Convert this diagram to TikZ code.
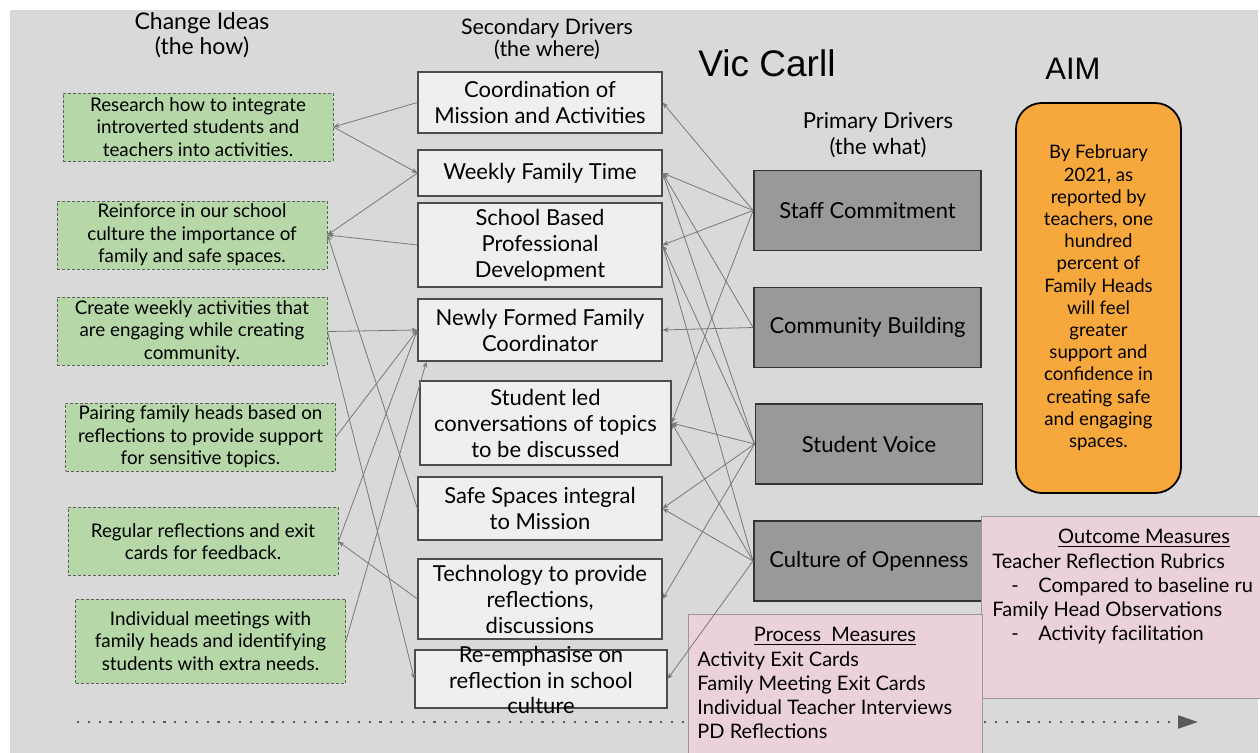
\documentclass[tikz,border=0pt]{standalone}
\usepackage{fontspec}
\setmainfont{Lato}
\newfontfamily\headfont{Liberation Sans}
\usetikzlibrary{arrows.meta}

\definecolor{bggrey}{RGB}{217,217,217}
\definecolor{ideagreen}{RGB}{182,215,168}
\definecolor{secfill}{RGB}{239,239,239}
\definecolor{primfill}{RGB}{153,153,153}
\definecolor{aimorange}{RGB}{247,168,61}
\definecolor{measurepink}{RGB}{234,209,220}
\definecolor{linkgrey}{RGB}{120,120,120}

\begin{document}
\begin{tikzpicture}[x=0.5pt, y=-0.5pt]

% ---- Styles ----
\tikzset{
  ideabox/.style={
    draw=gray!75!black, dash pattern=on 1.5pt off 1pt, line width=0.4pt,
    fill=ideagreen, minimum width=135pt, minimum height=34pt,
    align=center, inner sep=1pt, font=\fontsize{9.4}{11.3}\selectfont
  },
  secbox/.style={
    draw=black!70, line width=0.6pt, fill=secfill,
    minimum width=122pt, align=center, inner sep=1pt,
    font=\fontsize{11}{13}\selectfont
  },
  primbox/.style={
    draw=black!80, line width=0.9pt, fill=primfill,
    minimum width=113.5pt, minimum height=40pt,
    font=\fontsize{11}{13}\selectfont
  },
  measurebox/.style={
    draw=gray!80, line width=0.5pt, fill=measurepink, anchor=north west
  },
  heading/.style={align=center},
  link/.style={
    draw=linkgrey, line width=0.4pt, -{Stealth[length=3pt,width=2.4pt]}
  }
}

% background sheet
\useasboundingbox (0,0) rectangle (1260,753);
\fill[bggrey] (10,10) rectangle (1258,753);

% =========================================================
% HEADINGS
% =========================================================
\node[heading, font=\fontsize{11.5}{12.5}\selectfont] (hideas) at (202,35) {Change Ideas\\(the how)};
\node[heading, font=\fontsize{10.7}{11.2}\selectfont] (hsec) at (547,39) {Secondary Drivers\\(the where)};
\node[heading, font=\fontsize{11}{13}\selectfont] (hprim) at (878,135) {Primary Drivers\\(the what)};
\node[font=\headfont\fontsize{18.5}{20}\selectfont] (title) at (767,63) {Vic Carll};
\node[font=\headfont\fontsize{15.5}{17}\selectfont] (aimhead) at (1073,69) {AIM};

% =========================================================
% TIMELINE ARROW (under the measure boxes)
% =========================================================
\coordinate (tstart) at (77,722);
\coordinate (tend) at (1198,722);
\draw[gray!70!black, line width=1.1pt, dash pattern=on 1.1pt off 4.3pt,
      -{Triangle[length=10pt,width=6.5pt,fill=gray!70!black]}] (tstart) -- (tend);

% =========================================================
% CHANGE IDEAS (left column)
% =========================================================
\node[ideabox] (research) at (198,127) {Research how to integrate\\introverted students and\\teachers into activities.};
\node[ideabox] (reinforce) at (192,235) {Reinforce in our school\\culture the importance of\\family and safe spaces.};
\node[ideabox] (create) at (192,331.5) {Create weekly activities that\\are engaging while creating\\community.};
\node[ideabox] (pairing) at (200.5,437) {Pairing family heads based on\\reflections to provide support\\for sensitive topics.};
\node[ideabox] (regular) at (203,541.5) {Regular reflections and exit\\cards for feedback.};
\node[ideabox, minimum height=42pt] (individual) at (210.5,641) {Individual meetings with\\family heads and identifying\\students with extra needs.};

% =========================================================
% SECONDARY DRIVERS (middle column)
% =========================================================
\node[secbox, minimum height=30.5pt] (coord) at (540,102.5) {Coordination of\\Mission and Activities};
\node[secbox, minimum height=23pt] (weekly) at (540,173) {Weekly Family Time};
\node[secbox, minimum height=42pt] (school) at (540,245) {School Based\\Professional\\Development};
\node[secbox, minimum height=31pt] (newly) at (540,330) {Newly Formed Family\\Coordinator};
\node[secbox, minimum width=125.5pt, minimum height=42pt] (studentled) at (545.5,423) {Student led\\conversations of topics\\to be discussed};
\node[secbox, minimum height=31.5pt] (safe) at (540,508.5) {Safe Spaces integral\\to Mission};
\node[secbox, minimum height=40pt] (tech) at (540,599) {Technology to provide\\reflections,\\discussions};
% text runs over the frame here, so it sits in its own node
\node[secbox, minimum width=126pt, minimum height=29pt] (reemph) at (541,679) {};
\node[heading, font=\fontsize{11}{12.8}\selectfont] (reemphtext) at (541,680) {Re-emphasise on\\reflection in school\\culture};

% =========================================================
% PRIMARY DRIVERS + AIM
% =========================================================
\node[primbox] (staff) at (867.5,210.5) {Staff Commitment};
\node[primbox] (community) at (867.5,327.5) {Community Building};
\node[primbox] (voice) at (869,444) {Student Voice};
\node[primbox, minimum width=115pt, anchor=west, inner xsep=6pt] (culture) at (753,561) {Culture of Openness};

\node[draw=black, line width=0.9pt, fill=aimorange, rounded corners=13pt,
      minimum width=82.5pt, minimum height=195pt, align=center,
      font=\fontsize{9.3}{11.1}\selectfont] (aim) at (1098.5,298)
  {By February\\2021, as\\reported by\\teachers, one\\hundred\\percent of\\Family Heads\\will feel\\greater\\support and\\confidence in\\creating safe\\and engaging\\spaces.};

% =========================================================
% MEASURES
% =========================================================
\node[measurebox, minimum width=141pt, minimum height=91pt] (outcome) at (981,516) {};
\node[font=\fontsize{10}{12}\selectfont] (outtitle) at (1144,538) {\underline{Outcome Measures}};
\node[anchor=north west, align=left, inner sep=0pt, font=\fontsize{10}{12}\selectfont] (outlist) at (992,553)
  {Teacher Reflection Rubrics\\
   \hspace*{9.5pt}\makebox[13.5pt][l]{-}Compared to baseline ru\\
   Family Head Observations\\
   \hspace*{9.5pt}\makebox[13.5pt][l]{-}Activity facilitation};

\node[measurebox, minimum width=147pt, minimum height=75pt] (process) at (688,614) {};
\node[font=\fontsize{10}{12}\selectfont] (proctitle) at (835,636) {\underline{Process\ \ Measures}};
\node[anchor=north west, align=left, inner sep=0pt, font=\fontsize{10}{12}\selectfont] (proclist) at (697,651)
  {Activity Exit Cards\\Family Meeting Exit Cards\\Individual Teacher Interviews\\PD Reflections};

% =========================================================
% LINKS: change ideas <-> secondary drivers
% =========================================================
\draw[link] (coord.west) -- (research.east);
\draw[link] (research.east) -- (weekly.west);
\draw[link] (weekly.west) -- (reinforce.east);
\draw[link] (school.west) -- (reinforce.east);
\draw[link] (safe.west) -- (reinforce.east);
\draw[link] (create.east) -- (newly.west);
\draw[link] (create.east) -- (reemph.west);
\draw[link] (pairing.east) -- (newly.west);
\draw[link] (regular.east) -- (newly.west);
\draw[link] (tech.west) -- (regular.east);
\draw[link] (individual.east) -- ([xshift=4.5pt]newly.south west);

% =========================================================
% LINKS: primary drivers -> secondary drivers
% =========================================================
\foreach \t in {coord,weekly,school,studentled}
  \draw[link] (staff.west) -- (\t.east);
\foreach \t in {newly,weekly}
  \draw[link] (community.west) -- (\t.east);
\foreach \t in {studentled,safe,tech,weekly,school}
  \draw[link] (voice.west) -- (\t.east);
\foreach \t in {studentled,safe,reemph,school}
  \draw[link] (culture.west) -- (\t.east);

\end{tikzpicture}
\end{document}
